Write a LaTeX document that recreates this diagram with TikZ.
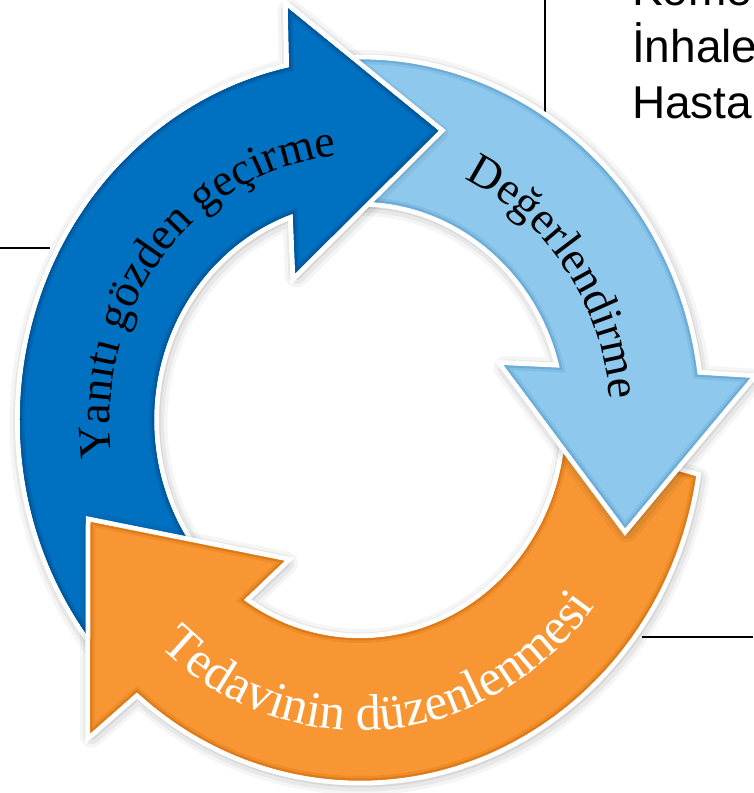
\documentclass[tikz,border=0pt]{standalone}
\usepackage{fontspec}
\setmainfont{Liberation Serif}
\newfontfamily\arcfont{Liberation Serif}
\newfontfamily\sansf{Liberation Sans}
\usetikzlibrary{decorations.text}
\definecolor{cblue}{RGB}{0,112,192}
\definecolor{cblueM}{RGB}{0,102,178}
\definecolor{cblueR}{RGB}{0,88,156}
\definecolor{clb}{RGB}{142,201,237}
\definecolor{clbM}{RGB}{128,190,230}
\definecolor{clbR}{RGB}{108,172,214}
\definecolor{corange}{RGB}{247,150,50}
\definecolor{corangeM}{RGB}{238,140,40}
\definecolor{corangeR}{RGB}{222,122,26}
\newcommand\pathBlue{(-140:340 and 360.4) arc[start angle=-140,end angle=-258,x radius=340,y radius=360.4] -- (-259.5:395 and 418.7) -- (-286:284 and 301) -- (-245:153 and 162.2) -- (-251:206 and 218.4) arc[start angle=-251,end angle=-140,x radius=206,y radius=218.4] -- cycle}
\newcommand\headBlue{(-259.5:395 and 418.7) -- (-286:284 and 301) -- (-245:153 and 162.2)}
\newcommand\pathLb{(95:340 and 360.4) arc[start angle=95,end angle=7.2,x radius=340,y radius=360.4] -- (5.8:392 and 415.5) -- (-21:284 and 301) -- (19.7:153 and 162.2) -- (13.8:206 and 218.4) arc[start angle=13.8,end angle=95,x radius=206,y radius=218.4] -- cycle}
\newcommand\pathOr{(-9:340 and 360.4) arc[start angle=-9,end angle=-131,x radius=340,y radius=360.4] -- (-132.4:400 and 424) -- (-160.3:286 and 303) -- (-119.7:153 and 162.2) -- (-124.5:206 and 218.4) arc[start angle=-124.5,end angle=-5,x radius=206,y radius=218.4] -- cycle}
\newcommand\arcA{\arcfont\fontsize{46}{50}\selectfont}
\newcommand\arcB{\arcfont\fontsize{51}{55}\selectfont}
\tikzset{
  shA/.style={draw=black, draw opacity=0.04, line width=24, line join=round, shift={(1.5,-2.5)}},
  shB/.style={draw=black, draw opacity=0.05, line width=17, line join=round, shift={(1.5,-2.5)}},
  shC/.style={draw=black, draw opacity=0.07, line width=11, line join=round, shift={(1,-1.5)}},
  halo/.style={draw=white, fill=white, line width=10},
  rtext/.style={font=\sansf\fontsize{46}{50}\selectfont, inner sep=0pt, anchor=base west, text=black},
  leader/.style={draw=black, line width=2pt}
}
\newcommand\drawArrow[4]{%
  \draw[shA] #1; \draw[shB] #1; \draw[shC] #1;
  \draw[halo] #1;
  \fill[#2] #1;
  \begin{scope}\clip #1; \draw[#3, line width=9] #1; \draw[#4, line width=4] #1; \end{scope}
}
\begin{document}
\begin{tikzpicture}[x=1pt,y=1pt]
\useasboundingbox (0,0) rectangle (753,-793);
\fill[white] (0,0) rectangle (753,-793);
% leader lines
\coordinate (va) at (545,0);
\coordinate (vb) at (545,-118);
\coordinate (ha) at (0,-248);
\coordinate (hb) at (50,-248);
\coordinate (ra) at (642,-637);
\coordinate (rb) at (753,-637);
\draw[leader] (va) -- (vb);
\draw[leader] (ha) -- (hb);
\draw[leader] (ra) -- (rb);
\begin{scope}[shift={(360,-420)}]
  \drawArrow{\pathBlue}{cblue}{cblueM}{cblueR}
  \drawArrow{\pathOr}{corange}{corangeM}{corangeR}
  \drawArrow{\pathLb}{clb}{clbM}{clbR}
  % blue head lies over the light blue tail
  \begin{scope}
    \clip \pathLb;
    \draw[shB] \headBlue; \draw[shC] \headBlue;
  \end{scope}
  \begin{scope}
    \clip (-80,430) rectangle (110,120);
    \draw[halo] \pathBlue;
    \fill[cblue] \pathBlue;
    \begin{scope}\clip \pathBlue; \draw[cblueM, line width=9] \pathBlue; \draw[cblueR, line width=4] \pathBlue; \end{scope}
  \end{scope}
  % labels along the arcs
  \path[decorate, decoration={text along path, text align=center,
      text={|\arcA|Yanıtı gözden geçirme}}]
    (201.3:250 and 265) arc[start angle=201.3, end angle=81.3, x radius=250, y radius=265];
  \path[decorate, decoration={text along path, text align=center,
      text={|\arcA|Değerlendirme}}]
    (95.7:250 and 265) arc[start angle=95.7, end angle=-24.3, x radius=250, y radius=265];
  \path[decorate, decoration={text along path, text align=center, text color=white,
      text={|\arcB|Tedavinin düzenlenmesi}}]
    (-145:293 and 310.6) arc[start angle=-145, end angle=-25, x radius=293, y radius=310.6];
\end{scope}
\node[rtext] (t1) at (632,-5) {Kome};
\node[rtext] (t2) at (632,-62) {İnhale};
\node[rtext] (t3) at (632,-118) {Hasta};
\end{tikzpicture}
\end{document}
